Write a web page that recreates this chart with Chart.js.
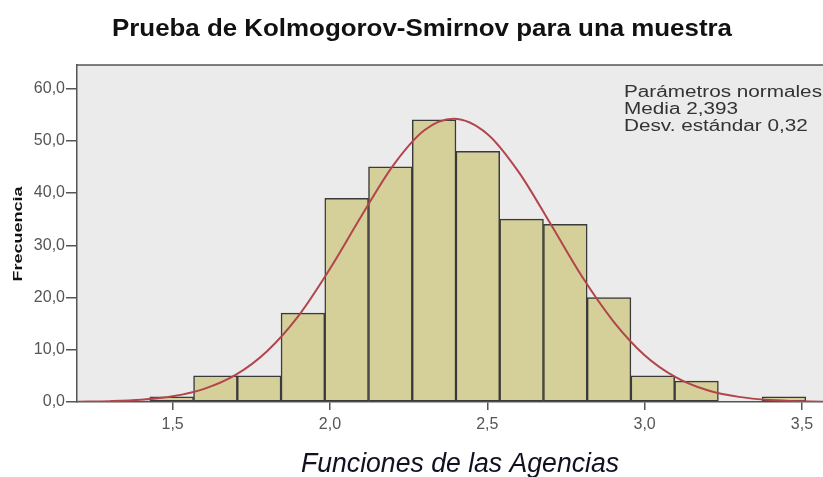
<!DOCTYPE html>
<html>
<head>
<meta charset="utf-8">
<script src="https://cdn.jsdelivr.net/npm/chart.js@4"></script>
<style>
  html, body { margin: 0; padding: 0; background: #ffffff; }
  #wrap { width: 823px; height: 477px; position: relative; }
</style>
</head>
<body>
<div id="wrap"><canvas id="c" width="823" height="477"></canvas></div>
<script>
// ---- data ----
const titleText = "Prueba de Kolmogorov-Smirnov para una muestra";
const xAxisTitle = "Funciones de las Agencias";
const yAxisTitle = "Frecuencia";
const legendLines = ["Parámetros normales", "Media 2,393", "Desv. estándar 0,32"];

// histogram bins (centres) and counts
const binCenters = [1.497, 1.636, 1.775, 1.914, 2.053, 2.192, 2.331, 2.470, 2.609, 2.748, 2.887, 3.026, 3.165, 3.304, 3.443];
const binCounts  = [1, 5, 5, 17, 39, 45, 54, 48, 35, 34, 20, 5, 4, 0, 1];

// fitted normal curve
const curveX = [1.2, 1.3, 1.4, 1.5, 1.6, 1.7, 1.8, 1.9, 2.0, 2.1, 2.2, 2.3, 2.393, 2.5, 2.6, 2.7, 2.8, 2.9, 3.0, 3.1, 3.2, 3.3, 3.4, 3.5, 3.6];
const curveY = [0.05, 0.16, 0.44, 1.10, 2.52, 5.19, 9.73, 16.5, 25.5, 35.6, 45.2, 52.0, 54.2, 51.3, 44.0, 34.2, 24.1, 15.5, 8.97, 4.72, 2.25, 0.98, 0.38, 0.14, 0.04];

const xTicks = [1.5, 2.0, 2.5, 3.0, 3.5];
const yTicks = [0, 10, 20, 30, 40, 50, 60];

// ---- helpers ----
function fmt(v) { return v.toFixed(1).replace('.', ','); }

function drawFitText(ctx, str, x, y, font, color, align, targetW, rotate) {
  ctx.save();
  ctx.font = font;
  ctx.fillStyle = color;
  ctx.textBaseline = 'alphabetic';
  const w = ctx.measureText(str).width;
  const sx = targetW ? targetW / w : 1;
  ctx.translate(x, y);
  if (rotate) ctx.rotate(rotate);
  ctx.scale(sx, 1);
  ctx.textAlign = align;
  ctx.fillText(str, 0, 0);
  ctx.restore();
  return sx;
}

const decor = {
  id: 'decor',
  beforeDraw(chart) {
    const { ctx, chartArea: a } = chart;
    ctx.save();
    ctx.fillStyle = '#ebebeb';
    ctx.fillRect(a.left, a.top, a.right - a.left, a.bottom - a.top);
    ctx.restore();
  },
  afterDraw(chart) {
    const { ctx, chartArea: a } = chart;
    // top frame line
    ctx.save();
    ctx.strokeStyle = '#555555';
    ctx.lineWidth = 1.5;
    ctx.beginPath();
    ctx.moveTo(a.left, a.top);
    ctx.lineTo(a.right, a.top);
    ctx.stroke();
    ctx.restore();

    // title
    drawFitText(ctx, titleText, 422, 36, 'bold 24px "Liberation Sans", Arial, sans-serif', '#111111', 'center', 620);
    // x axis title
    drawFitText(ctx, xAxisTitle, 460, 472, 'italic 27px "Liberation Sans", Arial, sans-serif', '#111122', 'center', 318);
    // y axis title (rotated)
    ctx.save();
    ctx.font = 'bold 13px "Liberation Sans", Arial, sans-serif';
    const yw = ctx.measureText(yAxisTitle).width;
    ctx.restore();
    ctx.save();
    ctx.translate(22, 234);
    ctx.rotate(-Math.PI / 2);
    ctx.scale(95 / yw, 1);
    ctx.font = 'bold 13px "Liberation Sans", Arial, sans-serif';
    ctx.fillStyle = '#111111';
    ctx.textAlign = 'center';
    ctx.textBaseline = 'alphabetic';
    ctx.fillText(yAxisTitle, 0, 0);
    ctx.restore();

    // legend text
    ctx.save();
    ctx.font = '16px "Liberation Sans", Arial, sans-serif';
    const lw = ctx.measureText(legendLines[0]).width;
    ctx.restore();
    const lsx = 198 / lw;
    const baselines = [97, 114, 131];
    legendLines.forEach((s, i) => {
      ctx.save();
      ctx.translate(624, baselines[i]);
      ctx.scale(lsx, 1);
      ctx.font = '16px "Liberation Sans", Arial, sans-serif';
      ctx.fillStyle = '#333333';
      ctx.textAlign = 'left';
      ctx.fillText(s, 0, 0);
      ctx.restore();
    });
  }
};

const histData = binCenters.map((x, i) => ({ x: x, y: binCounts[i] }));
const curveData = curveX.map((x, i) => ({ x: x, y: curveY[i] }));

new Chart(document.getElementById('c'), {
  type: 'bar',
  data: {
    datasets: [
      {
        type: 'line',
        data: curveData,
        borderColor: '#b2444c',
        borderWidth: 2,
        pointRadius: 0,
        fill: false,
        cubicInterpolationMode: 'monotone',
        order: 0
      },
      {
        type: 'bar',
        data: histData,
        backgroundColor: '#d5d099',
        borderColor: '#3a3a3a',
        borderWidth: 1.5,
        borderSkipped: false,
        barPercentage: 1.0,
        categoryPercentage: 1.0,
        order: 1
      }
    ]
  },
  options: {
    responsive: false,
    animation: false,
    layout: { padding: { top: 65, left: 0, right: 0, bottom: 0 } },
    plugins: {
      legend: { display: false },
      title: { display: false },
      tooltip: { enabled: false }
    },
    scales: {
      x: {
        type: 'linear',
        min: 1.196,
        max: 3.567,
        offset: false,
        afterBuildTicks(s) { s.ticks = xTicks.map(v => ({ value: v })); },
        afterFit(s) { s.height = 75; },
        grid: { offset: false, drawOnChartArea: false, drawTicks: true, tickLength: 8, color: '#555555', lineWidth: 1.5 },
        border: { display: true, color: '#555555', width: 1.5 },
        ticks: {
          callback: v => fmt(v),
          font: { family: '"Liberation Sans", Arial, sans-serif', size: 16 },
          color: '#555555',
          padding: 5,
          maxRotation: 0
        }
      },
      y: {
        min: 0,
        max: 64.5,
        afterBuildTicks(s) { s.ticks = yTicks.map(v => ({ value: v })); },
        afterFit(s) { s.width = 77; },
        grid: { drawOnChartArea: false, drawTicks: true, tickLength: 11, color: '#555555', lineWidth: 1.5 },
        border: { display: true, color: '#555555', width: 1.5 },
        ticks: {
          callback: v => fmt(v),
          font: { family: '"Liberation Sans", Arial, sans-serif', size: 16 },
          color: '#555555',
          padding: 1
        }
      }
    }
  },
  plugins: [decor]
});
</script>
</body>
</html>
